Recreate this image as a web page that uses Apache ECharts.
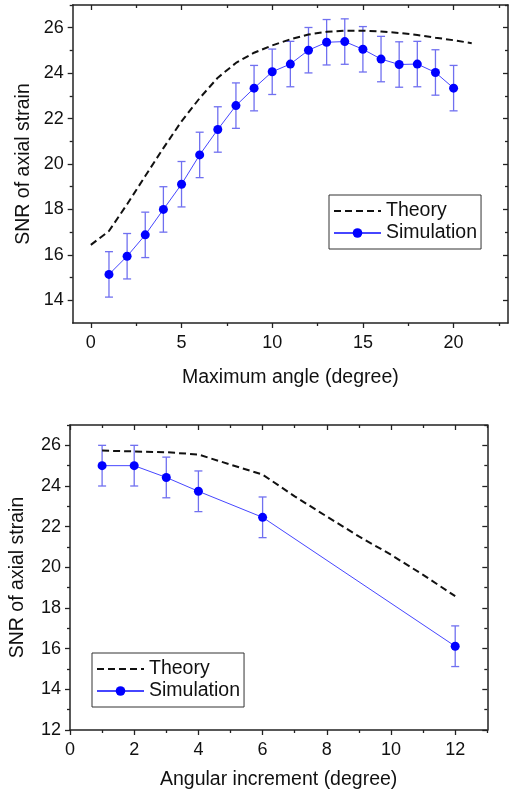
<!DOCTYPE html>
<html><head><meta charset="utf-8">
<script src="https://cdn.jsdelivr.net/npm/echarts@6/dist/echarts.min.js"></script>
<style>html,body{margin:0;padding:0;background:#fff}#c{width:509px;height:792px}</style>
</head><body><div id="c"></div>
<script>
// ---- Top chart data ----
const topTheoryX = [0,1,2,3,4,5,6,7,8,9,10,11,12,13,14,15,16,17,18,19,20,21];
const topTheory  = [16.44,17.05,18.23,19.47,20.7,21.88,22.9,23.8,24.45,24.9,25.22,25.49,25.7,25.82,25.87,25.87,25.83,25.77,25.68,25.56,25.45,25.32];
const topSimX = [1,2,3,4,5,6,7,8,9,10,11,12,13,14,15,16,17,18,19,20];
const topSim  = [15.14,15.94,16.88,18.0,19.11,20.4,21.52,22.57,23.34,24.06,24.4,25.01,25.36,25.39,25.05,24.62,24.38,24.4,24.03,23.34];
const topErr  = [1,1,1,1,1,1,1,1,1,1,1,1,1,1,1,1,1,1,1,1];
const topXMajor = [0,5,10,15,20];
const topXMinor = [2.5,7.5,12.5,17.5,22.5];
const topYMajor = [14,16,18,20,22,24,26];
const topYMinor = [15,17,19,21,23,25,27];

// ---- Bottom chart data ----
const botTheoryX = [1,2,3,4,5,6,7,8,9,10,11,12];
const botTheory  = [25.74,25.70,25.66,25.55,25.05,24.56,23.49,22.5,21.52,20.62,19.63,18.58];
const botSimX = [1,2,3,4,6,12];
const botSim  = [25.0,25.0,24.42,23.74,22.46,16.12];
const botErr  = [1,1,1,1,1,1];
const botXMajor = [0,2,4,6,8,10,12];
const botXMinor = [1,3,5,7,9,11,13];
const botYMajor = [12,14,16,18,20,22,24,26];
const botYMinor = [13,15,17,19,21,23,25,27];

const FONT = '"Liberation Sans", Arial, sans-serif';
const AX = '#222';

function mkAxes(g, dim, min, max, major, minor, name, nameGap){
  const isX = dim === 'x';
  const mainPos = isX ? 'bottom' : 'left';
  const mirPos = isX ? 'top' : 'right';
  const base = {gridIndex:g, type:'value', min:min, max:max, splitLine:{show:false}, z:5};
  const lineSt = {color:AX, width:1.5};
  return [
    Object.assign({}, base, {position:mainPos,
      axisLine:{show:true,onZero:false,lineStyle:lineSt},
      axisTick:{show:true,inside:false,length:5,customValues:major,lineStyle:{color:AX,width:1.3}},
      axisLabel:{show:true,customValues:major,fontSize:18,color:'#111',fontFamily:FONT,margin:isX?11:9},
      name:name,nameLocation:'middle',nameGap:nameGap,nameMoveOverlap:false,
      nameTextStyle:{fontSize:19.5,color:'#111',fontFamily:FONT}}),
    Object.assign({}, base, {position:mainPos,
      axisLine:{show:false,onZero:false},
      axisTick:{show:true,inside:false,length:3,customValues:minor,lineStyle:{color:AX,width:1.3}},
      axisLabel:{show:false}}),
    Object.assign({}, base, {position:mirPos,
      axisLine:{show:true,onZero:false,lineStyle:lineSt},
      axisTick:{show:true,inside:true,length:5,customValues:major,lineStyle:{color:AX,width:1.3}},
      axisLabel:{show:false}}),
    Object.assign({}, base, {position:mirPos,
      axisLine:{show:false,onZero:false},
      axisTick:{show:true,inside:true,length:3,customValues:minor,lineStyle:{color:AX,width:1.3}},
      axisLabel:{show:false}})
  ];
}

function errData(xs, ys, es){ return xs.map((x,i)=>[x, ys[i]-es[i], ys[i]+es[i]]); }
function pairs(xs, ys){ return xs.map((x,i)=>[x, ys[i]]); }

const ERR_COLOR = '#7070f0';
function errRender(params, api){
  const x = api.value(0), lo = api.value(1), hi = api.value(2);
  const a = api.coord([x, hi]), b = api.coord([x, lo]);
  const w = 4;
  const st = {stroke:ERR_COLOR, lineWidth:1.3};
  return {type:'group', children:[
    {type:'line', shape:{x1:a[0],y1:a[1],x2:b[0],y2:b[1]}, style:st},
    {type:'line', shape:{x1:a[0]-w,y1:a[1],x2:a[0]+w,y2:a[1]}, style:st},
    {type:'line', shape:{x1:b[0]-w,y1:b[1],x2:b[0]+w,y2:b[1]}, style:st}
  ]};
}

function seriesFor(g, thX, th, sX, s, e){
  const xi = g*4, yi = g*4;
  return [
    {name:'Theory', type:'line', xAxisIndex:xi, yAxisIndex:yi, data:pairs(thX, th),
     symbol:'none', lineStyle:{color:'#111', width:2, type:[7,4]}, itemStyle:{color:'#111'}, z:3, animation:false},
    {name:'Simulation-err', type:'custom', xAxisIndex:xi, yAxisIndex:yi, data:errData(sX, s, e),
     renderItem:errRender, z:2, animation:false, silent:true},
    {name:'Simulation', type:'line', xAxisIndex:xi, yAxisIndex:yi, data:pairs(sX, s),
     symbol:'circle', symbolSize:9, lineStyle:{color:'#4646ff', width:1}, itemStyle:{color:'#0000ff'}, z:4, animation:false}
  ];
}

function legendAt(left, top){
  return {data:[{name:'Theory', itemStyle:{opacity:0}}, {name:'Simulation'}], orient:'vertical', left:left, top:top,
    itemWidth:47, itemHeight:12, itemGap:2, padding:[6,4,6,4],
    borderColor:'#333', borderWidth:1, backgroundColor:'#fff',
    textStyle:{fontSize:19.5, color:'#111', fontFamily:FONT, lineHeight:20}};
}

const chart = echarts.init(document.getElementById('c'), null, {renderer:'canvas'});
chart.setOption({
  backgroundColor:'#fff',
  animation:false,
  grid:[
    {left:72.7, top:5, width:435.3, height:318},
    {left:69, top:425, width:418.3, height:305}
  ],
  xAxis: [].concat(
    mkAxes(0,'x',-1,23,topXMajor,topXMinor,'Maximum angle (degree)',45),
    mkAxes(1,'x',0,13,botXMajor,botXMinor,'Angular increment (degree)',40)
  ),
  yAxis: [].concat(
    mkAxes(0,'y',13,27,topYMajor,topYMinor,'SNR of axial strain',39),
    mkAxes(1,'y',12,27,botYMajor,botYMinor,'SNR of axial strain',42)
  ),
  legend:[legendAt(329,195), legendAt(92,653)],
  series: [].concat(
    seriesFor(0, topTheoryX, topTheory, topSimX, topSim, topErr),
    seriesFor(1, botTheoryX, botTheory, botSimX, botSim, botErr)
  )
});
</script>
</body></html>
